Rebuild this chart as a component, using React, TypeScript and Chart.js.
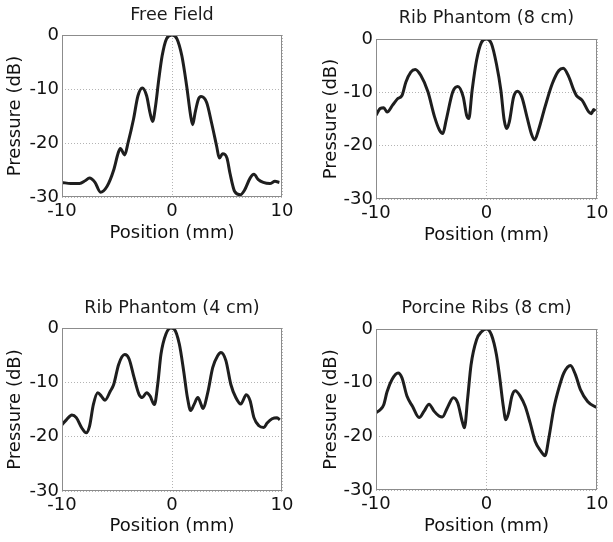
import React, { useEffect, useRef } from "react";
import { Chart, registerables } from "chart.js";

Chart.register(...registerables);

// ---------- data ----------
const panelTitles = ["Free Field", "Rib Phantom (8 cm)", "Rib Phantom (4 cm)", "Porcine Ribs (8 cm)"];
const xAxisLabel = "Position (mm)";
const yAxisLabel = "Pressure (dB)";
const xTicks = [-10, 0, 10];
const yTicks = [-30, -20, -10, 0];

const freeFieldX = [-10, -9.2, -8.4, -7.9, -7.5, -7.0, -6.5, -5.9, -5.3, -4.9, -4.7, -4.3, -4.0, -3.5, -3.1, -2.7, -2.3, -2.0, -1.76, -1.5, -1.2, -0.9, -0.5, 0, 0.45, 0.9, 1.33, 1.7, 1.88, 2.1, 2.4, 2.64, 3.15, 3.6, 4.06, 4.3, 4.6, 5.0, 5.27, 5.7, 6.2, 6.6, 7.1, 7.45, 7.85, 8.3, 8.9, 9.36, 9.76];
const freeFieldY = [-27.3, -27.5, -27.5, -27.0, -26.5, -27.3, -29.1, -28, -25, -21.9, -21, -22.2, -20, -15.6, -11.3, -9.8, -11.3, -14.4, -16, -13.2, -8.2, -3.9, -0.7, 0, -0.7, -3.9, -9.4, -15, -16.6, -14.4, -11.9, -11.4, -12.5, -16.3, -20.6, -22.8, -22, -22.8, -25.6, -29, -29.6, -28.7, -26.5, -25.8, -26.8, -27.3, -27.5, -27.1, -27.3];

const rib8X = [-10, -9.6, -9.3, -9.0, -8.5, -8.05, -7.65, -7.3, -6.85, -6.45, -5.95, -5.3, -4.7, -4.25, -3.95, -3.65, -3.05, -2.6, -2.1, -1.8, -1.6, -1.3, -0.9, -0.45, 0, 0.45, 0.9, 1.3, 1.6, 1.83, 2.07, 2.45, 2.8, 3.2, 3.66, 4.1, 4.36, 4.7, 5.3, 5.95, 6.55, 6.95, 7.45, 7.9, 8.14, 8.66, 9.27, 9.5, 9.7, 9.85];
const rib8Y = [-14.3, -13, -12.9, -13.7, -12.4, -11.2, -10.6, -8.1, -6.2, -5.7, -6.8, -9.9, -14.6, -17.1, -17.7, -15.2, -9.9, -8.9, -10.9, -14.3, -14.9, -9.6, -4, -0.6, 0, -0.9, -4.7, -9.6, -15.2, -16.8, -15.5, -10.9, -9.8, -10.9, -14.6, -18, -18.9, -17.1, -12.7, -8.4, -5.9, -5.5, -7.1, -9.6, -10.6, -11.5, -13.7, -14, -13.2, -13.5];

const rib4X = [-10, -9.6, -9.1, -8.7, -8.2, -7.8, -7.5, -7.15, -6.75, -6.4, -6.1, -5.6, -5.3, -4.85, -4.3, -3.9, -3.45, -3.0, -2.7, -2.3, -2.0, -1.6, -1.3, -1.0, -0.55, -0.1, 0.2, 0.67, 1.06, 1.4, 1.7, 2.0, 2.35, 2.65, 2.8, 3.25, 3.7, 4.15, 4.45, 4.9, 5.35, 5.8, 6.25, 6.75, 7.1, 7.45, 7.9, 8.35, 8.65, 9.1, 9.55, 9.8];
const rib4Y = [-17.8, -16.9, -16, -16.5, -18.4, -19.3, -18.1, -14.1, -11.9, -12.6, -13.3, -11.6, -10.4, -6.7, -4.9, -5.7, -9.1, -12.2, -12.8, -11.9, -12.5, -14.1, -10.4, -4.8, -1.1, 0, -0.2, -3, -7.9, -12.8, -15.2, -14.1, -12.8, -14.1, -14.8, -11.9, -7.3, -5.1, -4.5, -6, -10.4, -12.8, -14, -12.3, -13.4, -16.5, -18, -18.3, -17.5, -16.7, -16.5, -16.9];

const porcineX = [-10, -9.6, -9.3, -9.0, -8.55, -8.0, -7.65, -7.2, -6.7, -6.1, -5.65, -5.2, -4.75, -4.3, -4.0, -3.55, -3.0, -2.6, -2.2, -2.0, -1.7, -1.4, -0.9, -0.45, 0, 0.45, 0.9, 1.2, 1.5, 1.75, 2.0, 2.3, 2.6, 3.05, 3.5, 3.95, 4.4, 4.9, 5.3, 5.65, 6.1, 6.55, 7.0, 7.6, 8.05, 8.5, 9.15, 9.75, 10];
const porcineY = [-15.6, -15, -14.1, -11.7, -9.4, -8.2, -9.1, -12.5, -14.4, -16.5, -15.3, -14, -15.3, -16.2, -16.4, -14.7, -12.8, -13.8, -17.2, -18.4, -12.8, -6.7, -2, -0.5, 0, -1.1, -4.8, -9.1, -14.1, -16.9, -15.6, -12.5, -11.5, -12.5, -14.4, -17.5, -20.9, -22.7, -23.6, -20.2, -14.7, -11, -8.2, -6.8, -8.5, -11.3, -13.5, -14.4, -14.6];

const seriesX = [freeFieldX, rib8X, rib4X, porcineX];
const seriesY = [freeFieldY, rib8Y, rib4Y, porcineY];

// ---------- layout (per panel cell) ----------
type Layout = {
  left: number; top: number; width: number; height: number;
  yAxisW: number; xAxisH: number; rightPad: number;
  titleTop: number; titleBottom: number;
  yTitleTop: number; xTitleBottom: number;
};
const layouts: Layout[] = [
  { left: 0, top: 0, width: 306, height: 271, yAxisW: 62, xAxisH: 74, rightPad: 24, titleTop: 4.44, titleBottom: 9.44, yTitleTop: 4.7, xTitleBottom: 27.2 },
  { left: 306, top: 0, width: 307, height: 271, yAxisW: 70, xAxisH: 72, rightPad: 16, titleTop: 7.44, titleBottom: 10.44, yTitleTop: 14.2, xTitleBottom: 25.2 },
  { left: 0, top: 271, width: 306, height: 271, yAxisW: 62, xAxisH: 51, rightPad: 24, titleTop: 26.44, titleBottom: 9.44, yTitleTop: 4.7, xTitleBottom: 5.2 },
  { left: 306, top: 271, width: 307, height: 271, yAxisW: 70, xAxisH: 52, rightPad: 16, titleTop: 26.44, titleBottom: 10.44, yTitleTop: 14.2, xTitleBottom: 5.2 },
];

const frame = {
  id: "frame",
  afterDatasetsDraw(chart: any) {
    const { ctx, chartArea } = chart;
    ctx.save();
    ctx.strokeStyle = "#8c8c8c";
    ctx.lineWidth = 1;
    ctx.strokeRect(chartArea.left + 0.5, chartArea.top + 0.5, chartArea.right - chartArea.left - 1, chartArea.bottom - chartArea.top - 1);
    ctx.restore();
  },
};

function Panel({ idx }: { idx: number }) {
  const ref = useRef<HTMLCanvasElement>(null);
  useEffect(() => {
    const L = layouts[idx];
    const data = seriesX[idx].map((x, i) => ({ x, y: seriesY[idx][i] }));
    const chart = new Chart(ref.current!, {
      type: "line",
      data: {
        datasets: [
          {
            data,
            borderColor: "#1e1e1e",
            borderWidth: 3,
            pointRadius: 0,
            cubicInterpolationMode: "monotone",
            fill: false,
          },
        ],
      },
      options: {
        animation: false,
        responsive: false,
        events: [],
        layout: { padding: { left: 0, top: 0, right: L.rightPad, bottom: 0 } },
        plugins: {
          legend: { display: false },
          tooltip: { enabled: false },
          title: {
            display: true,
            text: panelTitles[idx],
            fullSize: false,
            color: "#1a1a1a",
            font: { family: "DejaVu Sans", size: 17.6, weight: "normal", lineHeight: 1.2 },
            padding: { top: L.titleTop, bottom: L.titleBottom },
          },
        },
        scales: {
          x: {
            type: "linear",
            min: -10,
            max: 10,
            afterBuildTicks: (s: any) => { s.ticks = xTicks.map((v) => ({ value: v })); },
            afterFit: (s: any) => { s.height = L.xAxisH; },
            grid: { color: "#b4b4b4", lineWidth: 1, drawTicks: false },
            border: { display: false, dash: [1, 2] },
            ticks: {
              padding: 4,
              color: "#111",
              font: { family: "DejaVu Sans", size: 18 },
              maxRotation: 0,
            },
            title: {
              display: true,
              text: xAxisLabel,
              color: "#111",
              font: { family: "DejaVu Sans", size: 18, lineHeight: 1.2 },
              padding: { top: 0, bottom: L.xTitleBottom },
            },
          },
          y: {
            type: "linear",
            min: -30,
            max: 0,
            afterBuildTicks: (s: any) => { s.ticks = yTicks.map((v) => ({ value: v })); },
            afterFit: (s: any) => { s.width = L.yAxisW; },
            grid: { color: "#b4b4b4", lineWidth: 1, drawTicks: false },
            border: { display: false, dash: [1, 2] },
            ticks: {
              padding: 3,
              color: "#111",
              font: { family: "DejaVu Sans", size: 18 },
            },
            title: {
              display: true,
              text: yAxisLabel,
              color: "#111",
              font: { family: "DejaVu Sans", size: 18, lineHeight: 1.2 },
              padding: { top: L.yTitleTop, bottom: 0 },
            },
          },
        },
      },
      plugins: [frame],
    });
    return () => chart.destroy();
  }, [idx]);
  const L = layouts[idx];
  return (
    <canvas
      ref={ref}
      width={L.width}
      height={L.height}
      style={{ position: "absolute", left: L.left, top: L.top, width: L.width, height: L.height }}
    />
  );
}

export default function App() {
  return (
    <div style={{ position: "absolute", left: 0, top: 0, width: 613, height: 542, background: "#fff" }}>
      {[0, 1, 2, 3].map((i) => (
        <Panel key={i} idx={i} />
      ))}
    </div>
  );
}
